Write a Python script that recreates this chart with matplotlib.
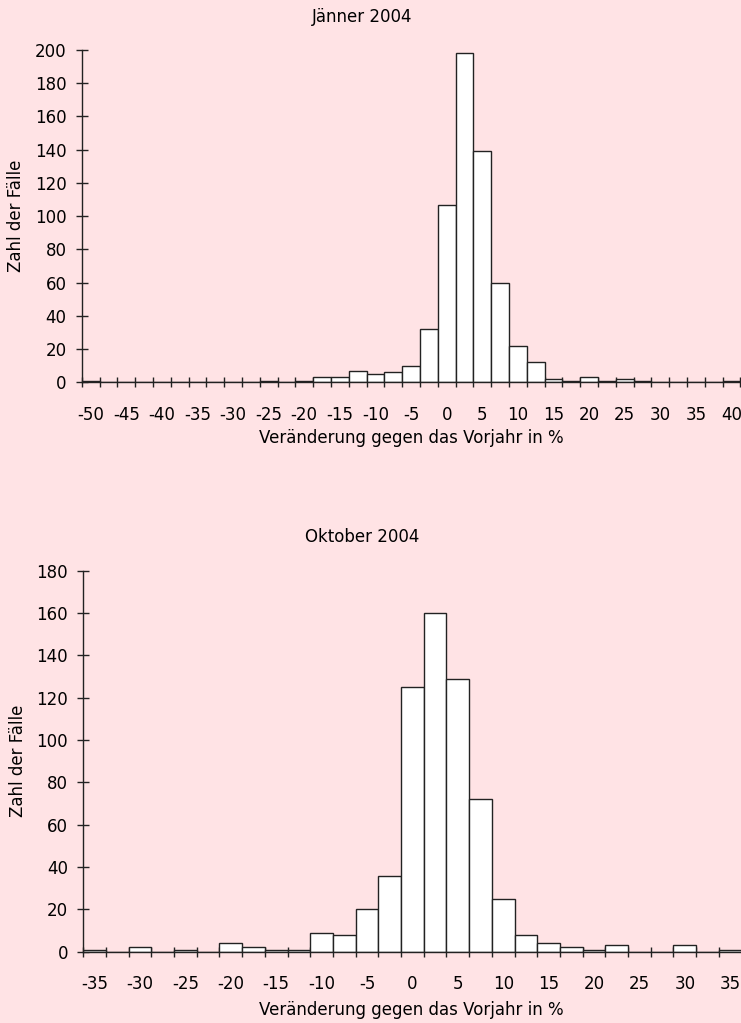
import numpy as np
import matplotlib
matplotlib.use("Agg")
import matplotlib.pyplot as plt
from matplotlib.ticker import MultipleLocator, FixedLocator

plt.rcParams['font.family'] = ['DejaVu Sans']

BG = '#FFE3E5'

# Jänner 2004: Klassenmitte (%) und Zahl der Fälle
jan_bins = [-50, -47.5, -45, -42.5, -40, -37.5, -35, -32.5, -30, -27.5,
            -25, -22.5, -20, -17.5, -15, -12.5, -10, -7.5, -5, -2.5,
            0, 2.5, 5, 7.5, 10, 12.5, 15, 17.5, 20, 22.5,
            25, 27.5, 30, 32.5, 35, 37.5, 40]
jan_counts = [1, 0, 0, 0, 0, 0, 0, 0, 0, 0,
              1, 0, 1, 3, 3, 7, 5, 6, 10, 32,
              107, 198, 139, 60, 22, 12, 2, 1, 3, 1,
              2, 1, 0, 0, 0, 0, 1]

# Oktober 2004
okt_bins = [-35, -32.5, -30, -27.5, -25, -22.5, -20, -17.5, -15, -12.5,
            -10, -7.5, -5, -2.5, 0, 2.5, 5, 7.5, 10, 12.5,
            15, 17.5, 20, 22.5, 25, 27.5, 30, 32.5, 35]
okt_counts = [1, 0, 2, 0, 1, 0, 4, 2, 1, 1,
              9, 8, 20, 36, 125, 160, 129, 72, 25, 8,
              4, 2, 1, 3, 0, 0, 3, 0, 1]

W = 2.5
FS = 12


def draw_hist(ax, bins, counts, ymax):
    bins = np.asarray(bins)
    ax.set_facecolor(BG)
    ax.bar(bins, counts, width=W, color='white', edgecolor='#222222',
           linewidth=1.0, zorder=2)
    ax.set_xlim(bins[0] - W / 2, bins[-1] + W / 2)
    ax.set_ylim(0, ymax)
    for s in ['top', 'right']:
        ax.spines[s].set_visible(False)
    for s in ['left', 'bottom']:
        ax.spines[s].set_color('#222222')
        ax.spines[s].set_linewidth(1.0)
        ax.spines[s].set_zorder(3)
    ax.yaxis.set_major_locator(MultipleLocator(20))
    ax.xaxis.set_minor_locator(FixedLocator(list(bins - W / 2) + [bins[-1] + W / 2]))
    ax.tick_params(axis='x', which='major', length=0, pad=17, labelsize=FS)
    ax.tick_params(axis='x', which='minor', direction='inout', length=7.5,
                   width=1.0, color='#222222')
    ax.tick_params(axis='y', direction='inout', length=8, width=1.0,
                   color='#222222', pad=7, labelsize=FS)
    ax.yaxis.set_label_coords(-0.086, 0.5)
    ax.set_ylabel('Zahl der Fälle', fontsize=FS)


fig = plt.figure(figsize=(7.41, 10.23), dpi=100)
fig.patch.set_facecolor(BG)

ax1 = fig.add_axes([0.1103, 0.6263, 0.8888, 0.3248])
draw_hist(ax1, jan_bins, jan_counts, 200)
ax1.set_xticks(np.arange(-50, 41, 5))
ax1.set_xticklabels([str(v) for v in range(-50, 41, 5)])

ax2 = fig.add_axes([0.1124, 0.0697, 0.8884, 0.3723])
draw_hist(ax2, okt_bins, okt_counts, 180)
ax2.set_xticks(np.arange(-35, 36, 5))
ax2.set_xticklabels([str(v) for v in range(-35, 36, 5)])

fig.text(0.4885, 0.9834, 'Jänner 2004', ha='center', va='center', fontsize=FS)
fig.text(0.5547, 0.5718, 'Veränderung gegen das Vorjahr in %', ha='center',
         va='center', fontsize=FS)
fig.text(0.4885, 0.4754, 'Oktober 2004', ha='center', va='center', fontsize=FS)
fig.text(0.5547, 0.0127, 'Veränderung gegen das Vorjahr in %', ha='center',
         va='center', fontsize=FS)

fig.savefig('out.png', dpi=100, facecolor=BG)
